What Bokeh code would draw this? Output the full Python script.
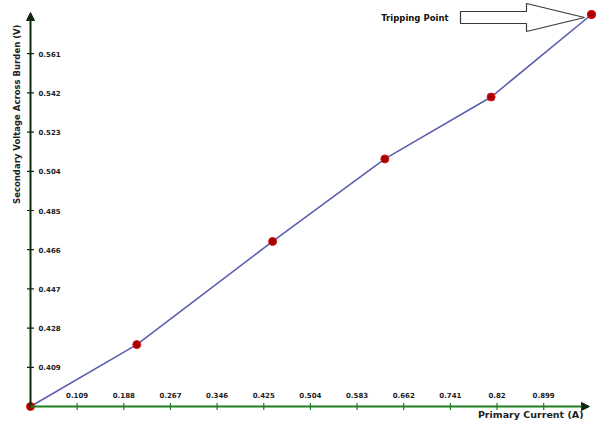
import math
from bokeh.plotting import figure
from bokeh.models import Label, Arrow, NormalHead, ColumnDataSource
from bokeh.core.properties import value
from bokeh.embed import file_html
from bokeh.resources import INLINE

# ---- data ----
primary_current = [0.03, 0.21, 0.44, 0.63, 0.81, 0.98]
secondary_voltage = [0.39, 0.42, 0.47, 0.51, 0.54, 0.58]

x_ticks = [0.109, 0.188, 0.267, 0.346, 0.425, 0.504, 0.583, 0.662, 0.741, 0.82, 0.899]
x_tick_labels = ["0.109", "0.188", "0.267", "0.346", "0.425", "0.504", "0.583", "0.662", "0.741", "0.82", "0.899"]
y_ticks = [0.409, 0.428, 0.447, 0.466, 0.485, 0.504, 0.523, 0.542, 0.561]
y_tick_labels = ["0.409", "0.428", "0.447", "0.466", "0.485", "0.504", "0.523", "0.542", "0.561"]

x_origin = 0.03
y_origin = 0.39
x_title = "Primary Current (A)"
y_title = "Secondary Voltage Across Burden (V)"
annotation_text = "Tripping Point"

# ---- layout ----
W, H = 597, 420
ox_px, right_px = 30, 591      # screen px of x origin / last x value
oy_px, top_px = 406, 14        # screen px (from top) of y origin / last y value
sx = (right_px - ox_px) / (primary_current[-1] - x_origin)
sy = (oy_px - top_px) / (secondary_voltage[-1] - y_origin)
x_start = x_origin - ox_px / sx
x_end = x_start + W / sx
y_end = secondary_voltage[-1] + top_px / sy
y_start = y_end - H / sy

p = figure(width=W, height=H, x_range=(x_start, x_end), y_range=(y_start, y_end),
           output_backend="svg", toolbar_location=None, min_border=0,
           x_axis_type=None, y_axis_type=None)
p.grid.visible = False
p.outline_line_color = None
p.background_fill_color = "white"
p.border_fill_color = "white"

font = value("DejaVu Sans")
ycol = "#0e2a0e"
xcol = "#1f7f1f"

# axes with arrows
p.add_layout(Arrow(end=NormalHead(size=8, fill_color=ycol, line_color=ycol),
                   x_start=x_origin, y_start=y_origin, x_end=x_origin, y_end=y_end - 12 / sy,
                   line_color=ycol, line_width=2))
p.add_layout(Arrow(end=NormalHead(size=8, fill_color="#0e2a0e", line_color="#0e2a0e"),
                   x_start=x_origin, y_start=y_origin, x_end=x_end - 8 / sx, y_end=y_origin,
                   line_color=xcol, line_width=2))

# ticks
p.scatter(x=[x_origin] * len(y_ticks), y=y_ticks, marker="dash", size=7,
          line_color=ycol, line_width=1.2)
p.scatter(x=x_ticks, y=[y_origin] * len(x_ticks), marker="dash", size=7, angle=math.pi / 2,
          line_color=xcol, line_width=1.2)

# tick labels
p.text(x=[x_origin] * len(y_ticks), y=y_ticks, text=y_tick_labels, x_offset=8,
       text_align="left", text_baseline="middle", text_font=font, text_font_style="bold",
       text_font_size="7px", text_color="#222222")
p.text(x=x_ticks, y=[y_origin] * len(x_ticks), text=x_tick_labels, y_offset=-12,
       text_align="center", text_baseline="middle", text_font=font, text_font_style="bold",
       text_font_size="7px", text_color="#222222")

# axis titles
p.add_layout(Label(x=583, y=H - 414, x_units="screen", y_units="screen", text=x_title,
                   text_align="right", text_baseline="middle", text_font="DejaVu Sans",
                   text_font_style="bold", text_font_size="9.5px", text_color="#222222"))
p.add_layout(Label(x=16, y=H - 24, x_units="screen", y_units="screen", text=y_title,
                   angle=math.pi / 2, text_align="right", text_baseline="middle",
                   text_font="DejaVu Sans", text_font_style="bold", text_font_size="8.5px",
                   text_color="#222222"))

# data
src = ColumnDataSource(dict(x=primary_current, y=secondary_voltage))
p.line("x", "y", source=src, line_color="#5c5fae", line_width=1.6)
p.scatter("x", "y", source=src, size=8, fill_color="#a50000", line_color="#e01010", line_width=1)

# tripping point annotation (block arrow relative to last point)
xl, yl = primary_current[-1], secondary_voltage[-1]
shape = [(-131, -3), (-65, -3), (-65, -11), (-7, 3), (-65, 17), (-65, 9), (-131, 9)]
p.patch(x=[xl + dx / sx for dx, dy in shape], y=[yl - dy / sy for dx, dy in shape],
        fill_color="white", line_color="#3a3a3a", line_width=1.2)
p.text(x=[xl], y=[yl], text=[annotation_text], x_offset=-143, y_offset=3,
       text_align="right", text_baseline="middle", text_font=font, text_font_style="bold",
       text_font_size="8.5px", text_color="#111111")
# redraw last point on top of arrow
p.scatter(x=[xl], y=[yl], size=8, fill_color="#a50000", line_color="#e01010", line_width=1)

open("out.html", "w").write(file_html(p, INLINE))
